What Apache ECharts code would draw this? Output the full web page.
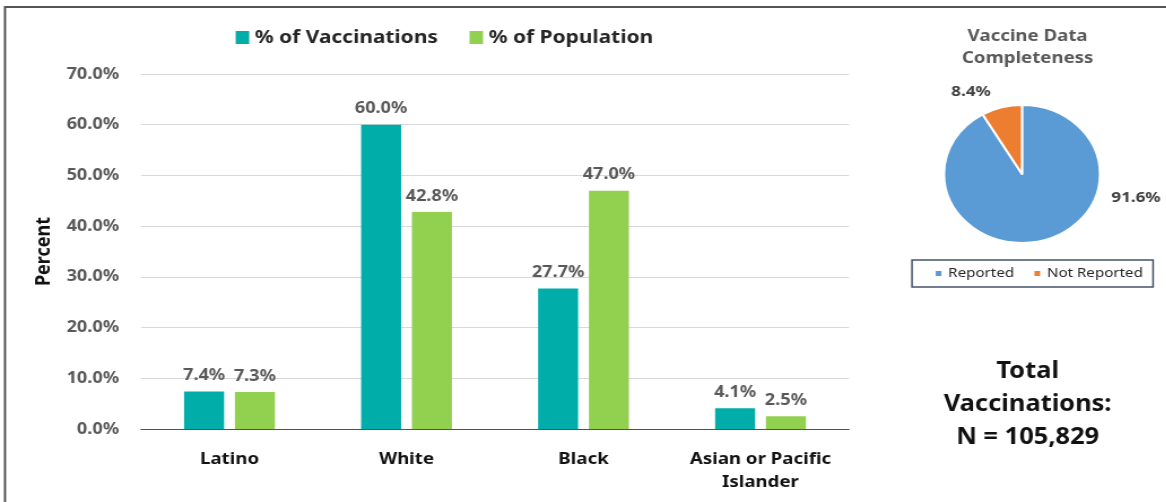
<!DOCTYPE html>
<html><head><meta charset="utf-8">
<script src="https://cdn.jsdelivr.net/npm/echarts@6/dist/echarts.min.js"></script>
<style>
html,body{margin:0;padding:0;background:#fff;overflow:hidden}
#wrap{width:1166px;height:502px;overflow:hidden;position:relative}
#c{width:1032px;height:502px;transform:scaleX(1.13);transform-origin:0 0}
</style>
</head><body><div id="wrap"><div id="c"></div></div>
<script>
const categories = ['Latino', 'White', 'Black', 'Asian or Pacific\nIslander'];
const pctVaccinations = [7.4, 60.0, 27.7, 4.1];
const pctPopulation = [7.3, 42.8, 47.0, 2.5];
const pieNames = ['Reported', 'Not Reported'];
const pieValues = [91.6, 8.4];
const totalVaccinations = '105,829';

const SX = 1.13;               // horizontal stretch of the original picture
const X = v => v / SX;          // page x -> chart x
const FONT = 'Noto Sans';
const chart = echarts.init(document.getElementById('c'), null, {renderer: 'canvas'});
chart.setOption({
  backgroundColor: '#fff',
  animation: false,
  textStyle: {fontFamily: FONT},
  title: [{
    text: 'Vaccine Data\nCompleteness',
    left: X(1022), top: 20, textAlign: 'center',
    textStyle: {fontFamily: FONT, fontSize: 16.5, fontWeight: 'bold', color: '#595959', lineHeight: 22}
  }, {
    text: 'Total\nVaccinations:\nN = ' + totalVaccinations,
    left: X(1022), top: 350, textAlign: 'center',
    textStyle: {fontFamily: FONT, fontSize: 22.5, fontWeight: 'bold', color: '#111', lineHeight: 33}
  }],
  legend: [{
    data: ['% of Vaccinations', '% of Population'],
    left: X(230), top: 23, itemWidth: 12, itemHeight: 13, itemGap: 28, icon: 'rect',
    textStyle: {fontFamily: FONT, fontSize: 18.5, fontWeight: 'bold', color: '#262626'}
  }, {
    data: pieNames,
    left: X(912), top: 260,
    icon: 'rect', itemWidth: 7, itemHeight: 7, itemGap: 16,
    borderColor: '#44546a', borderWidth: 1.5, padding: [7, 9, 7, 19],
    textStyle: {fontFamily: FONT, fontSize: 13.4, color: '#262626'}
  }],
  grid: {left: X(141), right: 1032 - X(849), top: 74, bottom: 73},
  xAxis: {
    type: 'category', data: categories,
    axisLine: {lineStyle: {color: '#44546a', width: 1.2}},
    axisTick: {show: false},
    axisLabel: {fontFamily: FONT, fontSize: 16.5, fontWeight: 'bold', color: '#111', margin: 19, lineHeight: 23, interval: 0}
  },
  yAxis: {
    type: 'value', min: 0, max: 70, interval: 10,
    name: 'Percent', nameLocation: 'middle', nameRotate: 90, nameGap: X(86),
    nameTextStyle: {fontFamily: FONT, fontSize: 18, fontWeight: 'bold', color: '#111'},
    axisLine: {show: false}, axisTick: {show: false},
    axisLabel: {fontFamily: FONT, fontSize: 16, fontWeight: 'bold', color: '#595959', margin: X(22),
      formatter: v => v.toFixed(1) + '%'},
    splitLine: {lineStyle: {color: '#d9d9d9'}}
  },
  series: [{
    name: '% of Vaccinations', type: 'bar', data: pctVaccinations,
    barWidth: X(40), barGap: '27%',
    itemStyle: {color: '#00ADA8'},
    label: {show: true, position: 'top', distance: 8, fontFamily: FONT, fontSize: 16, fontWeight: 'bold', color: '#595959',
      formatter: p => p.value.toFixed(1) + '%'}
  }, {
    name: '% of Population', type: 'bar', data: pctPopulation,
    barWidth: X(40),
    itemStyle: {color: '#92D050'},
    label: {show: true, position: 'top', distance: 8, fontFamily: FONT, fontSize: 16, fontWeight: 'bold', color: '#595959',
      formatter: p => p.value.toFixed(1) + '%'}
  }, {
    type: 'pie', center: [X(1022), 174], radius: 69, startAngle: 90, clockwise: true,
    data: pieNames.map((n, i) => ({name: n, value: pieValues[i]})),
    color: ['#5B9BD5', '#ED7D31'],
    itemStyle: {borderColor: '#fff', borderWidth: 2},
    label: {show: true, position: 'outside', fontFamily: FONT, fontSize: 15, fontWeight: 'bold', color: '#404040',
      formatter: p => p.value.toFixed(1) + '%'},
    labelLine: {show: false},
    labelLayout: p => p.dataIndex === 0 ? {x: X(1136), y: 198, align: 'center', verticalAlign: 'middle'}
                                        : {x: X(971), y: 92, align: 'center', verticalAlign: 'middle'}
  }],
  graphic: [{
    type: 'rect', shape: {x: X(5), y: 7, width: 1300, height: 600},
    style: {fill: 'none', stroke: '#555', lineWidth: 2}, silent: true, z: 100
  }]
});
</script></body></html>
